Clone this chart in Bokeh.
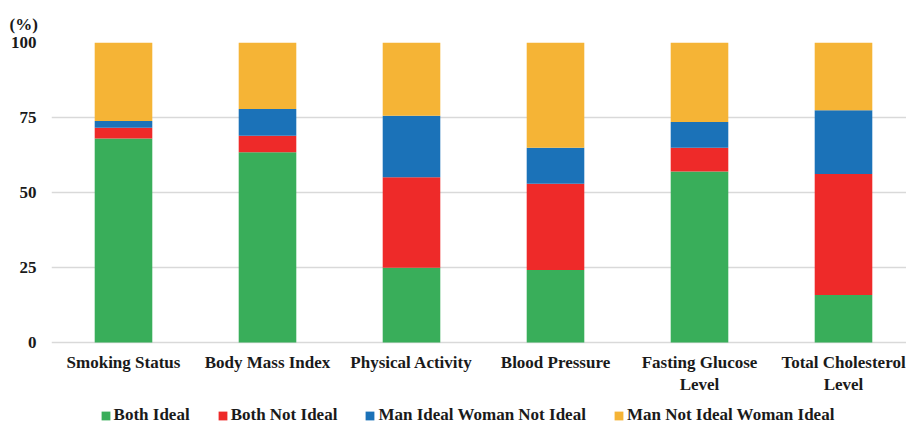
from bokeh.plotting import figure
from bokeh.models import Range1d, FixedTicker, Legend, LegendItem, Title, ColumnDataSource
from bokeh.core.properties import value
from bokeh.embed import file_html
from bokeh.resources import INLINE

categories = ["Smoking Status", "Body Mass Index", "Physical Activity",
              "Blood Pressure", "Fasting Glucose\nLevel", "Total Cholesterol\nLevel"]
both_ideal = [68.0, 63.4, 24.9, 24.2, 57.0, 15.8]
both_not_ideal = [3.6, 5.5, 30.2, 28.7, 7.9, 40.4]
man_ideal_woman_not = [2.2, 8.9, 20.5, 12.0, 8.6, 21.2]
man_not_woman_ideal = [26.2, 22.2, 24.4, 35.1, 26.5, 22.6]
series_names = ["Both Ideal", "Both Not Ideal", "Man Ideal Woman Not Ideal", "Man Not Ideal Woman Ideal"]
y_ticks = [0, 25, 50, 75, 100]

colors = ["#39AE5A", "#EE2A29", "#1B72B8", "#F5B436"]
FONT = "Liberation Serif"
TXT = "#1a1a1a"

pos = [i + 0.5 for i in range(len(categories))]
source = ColumnDataSource(dict(x=pos, s0=both_ideal, s1=both_not_ideal,
                               s2=man_ideal_woman_not, s3=man_not_woman_ideal))
label_src = ColumnDataSource(dict(x=pos, y=[y_ticks[0]] * len(categories), text=categories))

p = figure(frame_width=855, frame_height=381, output_backend="svg", toolbar_location=None,
           x_range=Range1d(0, 855 / 144), y_range=Range1d(-27, 100), x_axis_location=None,
           min_border_left=51, min_border_right=0, min_border_top=42, min_border_bottom=0)
p.outline_line_color = None
p.xgrid.grid_line_color = None
p.ygrid.grid_line_color = "#d9d9d9"
p.ygrid.grid_line_width = 1.3
p.ygrid.ticker = FixedTicker(ticks=y_ticks)

renderers = p.vbar_stack(["s0", "s1", "s2", "s3"], x="x", width=0.4, color=colors,
                         line_color=None, source=source)

# category labels under the baseline
p.text(x="x", y="y", text="text", source=label_src, y_offset=10,
       text_align="center", text_baseline="top", text_line_height=1.2,
       text_font=value(FONT), text_font_style="bold", text_font_size="17px", text_color=TXT)

p.yaxis.ticker = FixedTicker(ticks=y_ticks)
p.yaxis.axis_line_color = None
p.yaxis.major_tick_line_color = None
p.yaxis.minor_tick_line_color = None
p.yaxis.major_tick_out = 0
p.yaxis.major_label_standoff = 15
p.yaxis.major_label_text_font = FONT
p.yaxis.major_label_text_font_style = "bold"
p.yaxis.major_label_text_font_size = "17px"
p.yaxis.major_label_text_color = TXT

unit = Title(text="(%)", align="left", offset=-42, standoff=18, text_font=FONT,
             text_font_style="bold", text_font_size="17px", text_color=TXT)
p.add_layout(unit, "above")

legend = Legend(items=[LegendItem(label=n, renderers=[r]) for n, r in zip(series_names, renderers)],
                orientation="horizontal", location=(48.6, -2),
                glyph_width=11, glyph_height=11, label_standoff=3, spacing=27,
                padding=0, margin=0, border_line_color=None, background_fill_alpha=0,
                label_text_font=FONT, label_text_font_style="bold",
                label_text_font_size="17px", label_text_color=TXT)
p.add_layout(legend)

open("out.html", "w").write(file_html(p, INLINE))
